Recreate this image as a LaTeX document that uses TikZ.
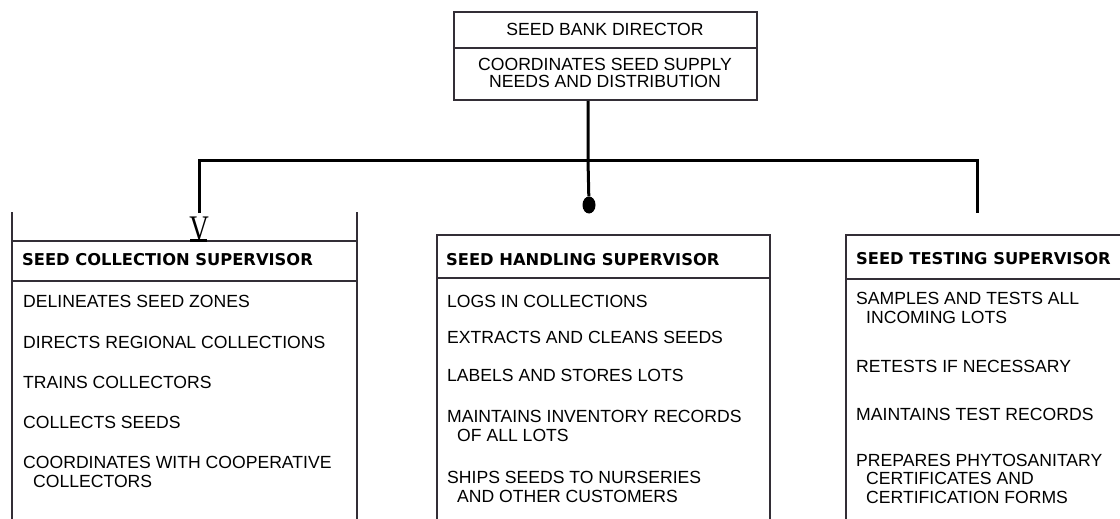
\documentclass[tikz,border=0pt]{standalone}
\usepackage{fontspec}
\setmainfont{Liberation Sans}
\newfontfamily\hdfont{DejaVu Sans}
\newfontfamily\vfont{Liberation Serif}
\usetikzlibrary{shapes.geometric}
\definecolor{boxc}{HTML}{332E36}
\begin{document}
\begin{tikzpicture}[x=1pt,y=-1pt,
  boxline/.style={line width=2pt, draw=boxc},
  conn/.style={line width=3pt, draw=black},
  hdr/.style={anchor=base west, inner sep=0, font=\hdfont\bfseries\fontsize{16.3}{18}\selectfont},
  item/.style={anchor=base west, inner sep=0, align=left, font=\fontsize{17.6}{18.5}\selectfont},
  dirtxt/.style={anchor=base, inner sep=0, align=center, font=\fontsize{17.6}{17}\selectfont}]
\useasboundingbox (0,0) rectangle (1120,519);

% director box
\node[boxline, draw, minimum width=303pt, minimum height=88pt, inner sep=0] (dir) at (605.5,56) {};
\draw[boxline] (dir.west |- 0,48) -- (dir.east |- 0,48);
\node[dirtxt] (dirT) at (605,36) {SEED BANK DIRECTOR};
\node[dirtxt] (dirD) at (605,88) {COORDINATES SEED SUPPLY\\NEEDS AND DISTRIBUTION};

% supervisor boxes (open at the bottom)
\draw[boxline] (12,212) -- (12,519);
\draw[boxline] (357,212) -- (357,519);
\draw[boxline] (12,241) -- (357,241);
\draw[boxline] (12,281) -- (357,281);

\draw[boxline] (437,519) -- (437,235) -- (770,235) -- (770,519);
\draw[boxline] (437,278) -- (770,278);

\draw[boxline] (1121,235) -- (846,235) -- (846,519);
\draw[boxline] (846,279) -- (1121,279);

% headers
\node[hdr] (h1) at (22,265) {SEED COLLECTION SUPERVISOR};
\node[hdr] (h2) at (446,265) {SEED HANDLING SUPERVISOR};
\node[hdr] (h3) at (856,264) {SEED TESTING SUPERVISOR};

% items left (multi-line nodes are placed by the baseline of their last line)
\node[item] (a1) at (23,307) {DELINEATES SEED ZONES};
\node[item] (a2) at (23,348) {DIRECTS REGIONAL COLLECTIONS};
\node[item] (a3) at (23,388) {TRAINS COLLECTORS};
\node[item] (a4) at (23,428) {COLLECTS SEEDS};
\node[item] (a5) at (23,487) {COORDINATES WITH COOPERATIVE\\\hspace*{10pt}COLLECTORS};

% items middle
\node[item] (b1) at (447,307) {LOGS IN COLLECTIONS};
\node[item] (b2) at (447,343) {EXTRACTS AND CLEANS SEEDS};
\node[item] (b3) at (447,381) {LABELS AND STORES LOTS};
\node[item] (b4) at (447,441) {MAINTAINS INVENTORY RECORDS\\\hspace*{10pt}OF ALL LOTS};
\node[item] (b5) at (447,502) {SHIPS SEEDS TO NURSERIES\\\hspace*{10pt}AND OTHER CUSTOMERS};

% items right
\node[item] (c1) at (856,323) {SAMPLES AND TESTS ALL\\\hspace*{10pt}INCOMING LOTS};
\node[item] (c2) at (856,372) {RETESTS IF NECESSARY};
\node[item] (c3) at (856,420) {MAINTAINS TEST RECORDS};
\node[item] (c4) at (856,503) {PREPARES PHYTOSANITARY\\\hspace*{10pt}CERTIFICATES AND\\\hspace*{10pt}CERTIFICATION FORMS};

% connectors
\node[anchor=base, inner sep=0, font=\vfont\fontsize{36}{36}\selectfont] (vtip) at (199,240) {\scalebox{0.75}[1]{V}};
\draw[line width=3pt] (190,240) -- (207,240);
\node[fill=black, ellipse, minimum width=13pt, minimum height=17pt, inner sep=0] (dot) at (589,205) {};
\coordinate (j) at (588,160);
\coordinate (bl) at (199,160);
\coordinate (br) at (977,160);
\coordinate (brend) at (977,213);
\draw[conn] (dir.south -| j) -- (j) -- (dot);
\draw[conn] (vtip.north |- 0,213) -- (bl) -- (br) -- (brend);
\end{tikzpicture}
\end{document}
